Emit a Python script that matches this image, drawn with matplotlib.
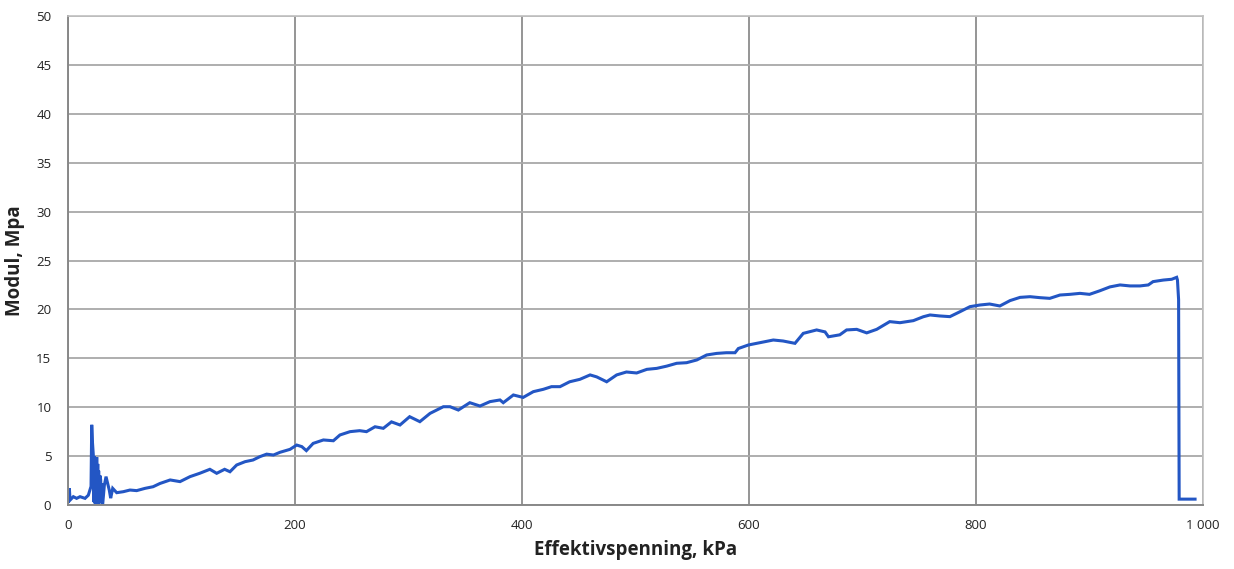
import matplotlib
matplotlib.use("Agg")
import matplotlib.pyplot as plt

# Effective stress (kPa) and modulus (MPa)
stress = [0.0, 1.2, 1.8, 4.7, 7.6, 10.6, 15.0, 17.9, 20.3, 20.9, 21.5, 22.3, 22.6, 23.0, 23.4,
          23.8, 24.1, 24.5, 24.9, 25.3, 25.7, 26.2, 26.6, 27.0, 27.6, 28.2, 28.8, 29.2, 29.6,
          30.0, 30.5, 32.0, 33.5, 35.0, 36.4, 37.6, 39.4, 42.9, 48.7,
          54.6, 60.5, 67.8, 75.0, 81.0, 90.0, 98.7, 107.5, 116.0, 125.0, 131.0, 138.0, 142.7,
          148.6, 156.0, 163.0, 169.0, 175.0, 181.0, 186.8, 195.6, 201.5, 206.0, 210.0, 216.0,
          225.0, 233.8, 239.6, 248.5, 257.0, 263.0, 270.5, 277.8, 285.0, 292.5, 301.0, 310.0,
          319.0, 330.7, 336.6, 343.9, 354.0, 363.0, 371.8, 380.6, 383.5, 392.4, 401.0, 410.0,
          418.8, 426.0, 433.5, 442.0, 451.0, 460.0, 465.8, 474.6, 483.4, 492.0, 501.0, 510.0,
          518.7, 527.5, 536.3, 545.0, 554.0, 562.7, 571.5, 580.0, 587.7, 590.6, 599.4, 609.7,
          621.4, 630.0, 640.5, 647.8, 659.6, 667.0, 670.0, 680.0, 686.0, 694.9, 703.7, 712.5,
          724.0, 733.0, 744.8, 753.6, 759.5, 768.0, 777.0, 786.0, 794.7, 803.5, 812.0, 821.0,
          830.0, 838.8, 847.6, 856.4, 865.0, 874.0, 882.8, 891.6, 900.0, 909.0, 918.0, 926.9,
          935.7, 944.5, 951.8, 956.0, 965.0, 972.4, 976.8, 977.5, 978.5, 979.0, 985.0, 993.0]
modulus = [0.4, 1.7, 0.5, 0.85, 0.68, 0.85, 0.68, 1.0, 1.9, 8.2, 6.5, 5.1, 0.3, 5.0, 0.2,
           4.8, 0.1, 4.5, 0.2, 4.9, 0.3, 4.2, 0.1, 3.5, 0.2, 3.0, 2.56, 0.2, 2.2,
           0.1, 0.0, 2.0, 2.9, 2.2, 1.5, 0.7, 1.7, 1.26, 1.36,
           1.53, 1.47, 1.7, 1.87, 2.2, 2.56, 2.39, 2.9, 3.24, 3.65, 3.24, 3.65, 3.4,
           4.09, 4.43, 4.6, 4.94, 5.2, 5.11, 5.39, 5.69, 6.13, 5.97, 5.56, 6.3,
           6.65, 6.57, 7.16, 7.5, 7.6, 7.5, 8.0, 7.84, 8.5, 8.18, 9.03, 8.52,
           9.37, 10.05, 10.05, 9.71, 10.46, 10.12, 10.57, 10.74, 10.46, 11.25, 11.0, 11.59,
           11.83, 12.1, 12.1, 12.6, 12.85, 13.3, 13.1, 12.6, 13.3, 13.6, 13.5, 13.87,
           13.97, 14.2, 14.49, 14.55, 14.83, 15.34, 15.5, 15.57, 15.57, 16.0, 16.36, 16.6,
           16.87, 16.77, 16.53, 17.55, 17.9, 17.7, 17.2, 17.4, 17.9, 17.96, 17.6, 17.96,
           18.75, 18.64, 18.85, 19.25, 19.43, 19.33, 19.26, 19.77, 20.28, 20.45, 20.55, 20.35,
           20.9, 21.23, 21.3, 21.2, 21.13, 21.47, 21.54, 21.64, 21.54, 21.9, 22.3, 22.5,
           22.4, 22.4, 22.5, 22.84, 23.0, 23.08, 23.28, 23.0, 21.0, 0.6, 0.6, 0.6]

x_ticks = [0, 200, 400, 600, 800, 1000]
x_tick_labels = ["0", "200", "400", "600", "800", "1 000"]
y_ticks = [0, 5, 10, 15, 20, 25, 30, 35, 40, 45, 50]

fig = plt.figure(figsize=(12.34, 5.69), dpi=100)
ax = fig.add_axes([68 / 1234, 64 / 569, (1203 - 68) / 1234, (505 - 16) / 569])

ax.plot(stress, modulus, color="#2356c4", linewidth=2.2, solid_joinstyle="miter")

ax.set_xlim(0, 1000)
ax.set_ylim(0, 50)
ax.set_xticks(x_ticks)
ax.set_xticklabels(x_tick_labels)
ax.set_yticks(y_ticks)

ax.grid(True, axis="y", color="#a8a8a8", linewidth=1.3)
ax.grid(True, axis="x", color="#8c8c8c", linewidth=1.3)
ax.set_axisbelow(True)
for side in ["left", "bottom"]:
    ax.spines[side].set_color("#888888")
    ax.spines[side].set_linewidth(1.4)
for side in ["top", "right"]:
    ax.spines[side].set_color("#c0c0c0")
    ax.spines[side].set_linewidth(1.2)

ax.tick_params(axis="both", length=0, labelsize=9.5, colors="#222222")
ax.tick_params(axis="x", pad=10)
ax.tick_params(axis="y", pad=12)
for lbl in ax.get_xticklabels() + ax.get_yticklabels():
    lbl.set_family("Open Sans")

ax.set_xlabel("Effektivspenning, kPa", fontsize=13.5, fontweight="bold",
              family="Open Sans", color="#222222", labelpad=6)
ax.set_ylabel("Modul, Mpa", fontsize=13.5, fontweight="bold",
              family="Open Sans", color="#222222", labelpad=8)

fig.savefig("out.png", dpi=100)
